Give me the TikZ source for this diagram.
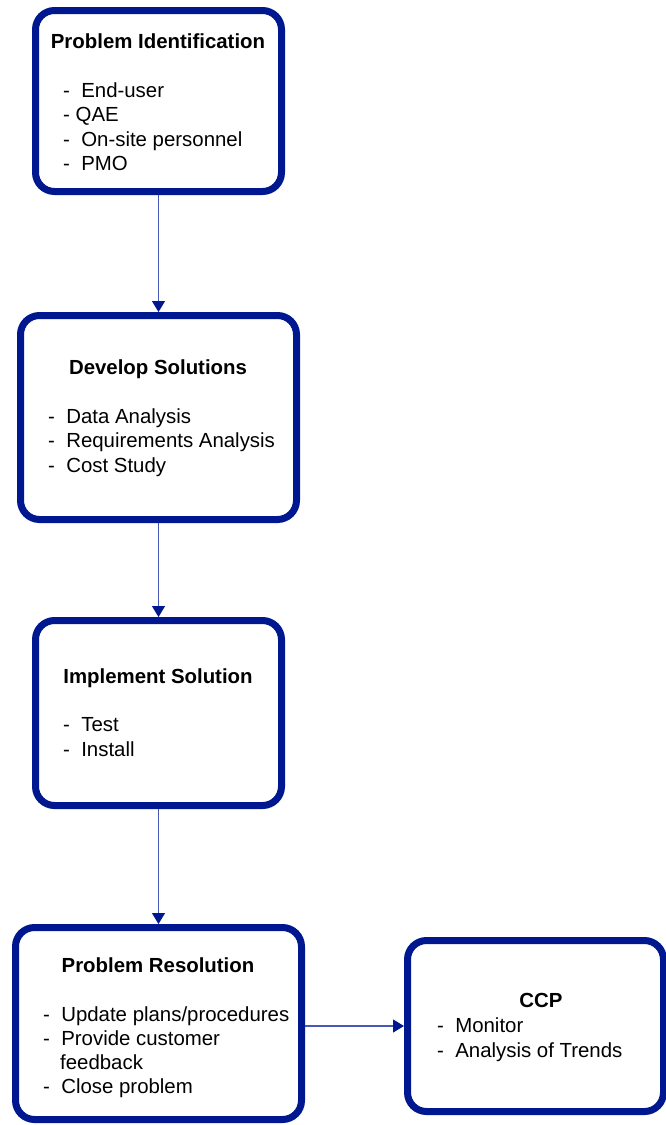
\documentclass[tikz,border=0pt]{standalone}
\usepackage{fontspec}
\setmainfont{Liberation Sans}
\usetikzlibrary{arrows.meta}
\definecolor{navy}{RGB}{0,24,143}
\definecolor{arrowline}{RGB}{72,88,184}
\tikzset{
  box/.style={draw=navy, line width=7pt, rounded corners=19pt, fill=white, inner sep=0pt},
  title/.style={anchor=base, inner sep=0pt, font=\fontsize{20.4}{24.5}\selectfont\bfseries},
  items/.style={anchor=base west, inner sep=0pt, align=left, font=\fontsize{20.4}{24.5}\selectfont},
  arrowto/.style={draw=arrowline, line width=1.2pt, -{Triangle[width=13pt,length=11pt,color=navy]}}
}
\begin{document}
\begin{tikzpicture}[x=1pt,y=-1pt]
\useasboundingbox (0,0) rectangle (665,1125);
% boxes
\node[box, minimum width=246pt, minimum height=181pt] (b1) at (158.5,101) {};
\node[box, minimum width=276pt, minimum height=204pt] (b2) at (158.5,417.5) {};
\node[box, minimum width=246pt, minimum height=185pt] (b3) at (158.5,713) {};
\node[box, minimum width=286pt, minimum height=192pt] (b4) at (158.5,1023.5) {};
\node[box, minimum width=256pt, minimum height=171pt] (ccp) at (535.5,1026) {};
% texts (list nodes anchored at the baseline of their last line)
\node[title] (t1) at (158,48) {Problem Identification};
\node[items] (l1) at (63,170.5) {-~~End-user\\-~QAE\\-~~On-site personnel\\-~~PMO};
\node[title] (t2) at (158,374) {Develop Solutions};
\node[items] (l2) at (48,472) {-~~Data Analysis\\-~~Requirements Analysis\\-~~Cost Study};
\node[title] (t3) at (158,683) {Implement Solution};
\node[items] (l3) at (63,756) {-~~Test\\-~~Install};
\node[title] (t4) at (158,972) {Problem Resolution};
\node[items, font=\fontsize{20.4}{23.7}\selectfont] (l4) at (43,1093) {-~~Update plans/procedures\\-~~Provide customer\\\hspace*{17pt}feedback\\-~~Close problem};
\node[title] (t5) at (541,1007) {CCP};
\node[items] (l5) at (437,1057) {-~~Monitor\\-~~Analysis of Trends};
% connectors
\draw[arrowto] (b1.south) -- (b2.north);
\draw[arrowto] (b2.south) -- (b3.north);
\draw[arrowto] (b3.south) -- (b4.north);
\draw[arrowto] (b4.east |- ccp.west) -- (ccp.west);
\end{tikzpicture}
\end{document}
